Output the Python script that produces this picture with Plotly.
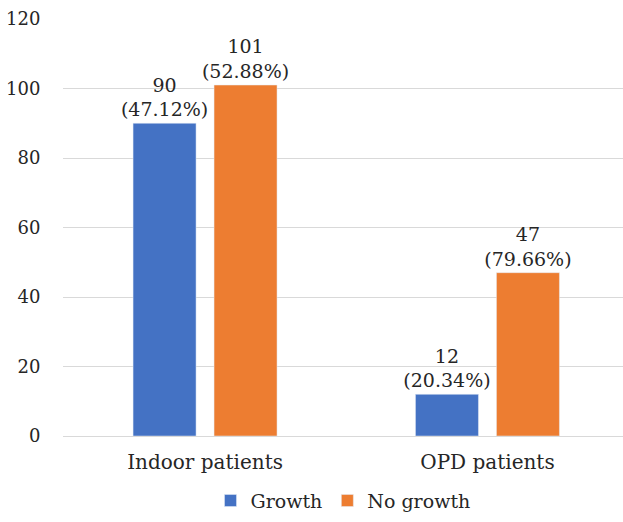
import plotly.graph_objects as go

categories = ["Indoor patients", "OPD patients"]
growth = [90, 12]
no_growth = [101, 47]
growth_pct = ["47.12%", "20.34%"]
no_growth_pct = ["52.88%", "79.66%"]
y_ticks = [0, 20, 40, 60, 80, 100, 120]

SERIF = "DejaVu Serif"
INK = "#262626"


def labels(vals, pcts):
    return [f"{v}<br>({p})" for v, p in zip(vals, pcts)]


fig = go.Figure()
fig.add_trace(go.Bar(x=categories, y=growth, name="Growth",
                     marker_color="#4472C4",
                     text=labels(growth, growth_pct), textposition="outside",
                     constraintext="none",
                     textfont=dict(family=SERIF, size=19, color=INK)))
fig.add_trace(go.Bar(x=categories, y=no_growth, name="No growth",
                     marker_color="#ED7D31",
                     text=labels(no_growth, no_growth_pct), textposition="outside",
                     constraintext="none",
                     textfont=dict(family=SERIF, size=19, color=INK)))

fig.update_layout(
    width=623, height=522,
    margin=dict(l=63, r=0, t=19, b=86),
    paper_bgcolor="white", plot_bgcolor="white",
    bargap=0.4265, bargroupgap=0.222,
    legend=dict(orientation="h", x=0.5, xanchor="center", y=-0.155, yanchor="middle",
                font=dict(family=SERIF, size=19, color=INK)),
    xaxis=dict(range=[-0.503, 1.48], showgrid=False, showline=True,
               linecolor="#D9D9D9", ticks="outside", ticklen=8, tickcolor="white",
               tickfont=dict(family=SERIF, size=20, color=INK)),
    yaxis=dict(range=[0, 120], tickvals=y_ticks, gridcolor="#D9D9D9", zeroline=False,
               ticks="outside", ticklen=18, tickcolor="white",
               tickfont=dict(family=SERIF, size=18, color=INK)),
)

fig.write_html("out.html")
